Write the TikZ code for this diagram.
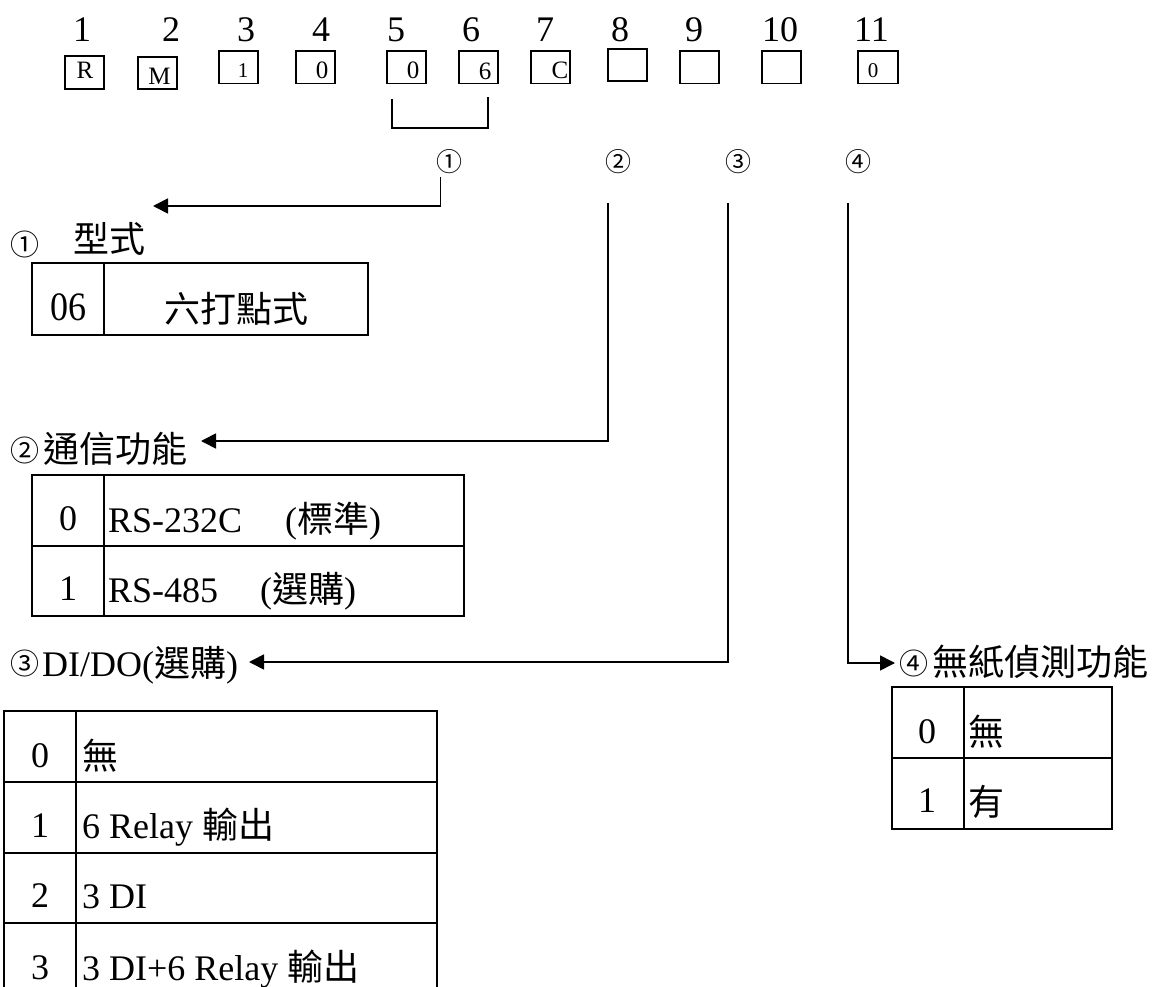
\documentclass[tikz,border=0pt]{standalone}
\usepackage{fontspec}
\usetikzlibrary{arrows.meta}
\setmainfont{Liberation Serif}
\newfontfamily\cjk{Noto Sans CJK TC}
\newcommand{\fs}[1]{\fontsize{#1}{#1}\selectfont}
\tikzset{
  line/.style={draw=black,line width=1.7pt},
  cell/.style={draw=black,line width=1.7pt},
  num/.style={inner sep=0pt,font=\fs{36}},
  small/.style={inner sep=0pt,font=\fs{25}},
  tiny/.style={inner sep=0pt,font=\fs{21}},
  circ/.style={inner sep=0pt,font=\cjk\fs{26}},
  lcirc/.style={inner sep=0pt,font=\cjk\fs{29}},
  label/.style={inner sep=0pt,anchor=base west,font=\fs{36}},
  cjklabel/.style={inner sep=0pt,anchor=base west,font=\cjk\fs{36}},
  head/.style={-{Triangle[length=15pt,width=15pt]},line width=1.7pt},
}
\begin{document}
\begin{tikzpicture}[x=1pt,y=-1pt]
\useasboundingbox (0,0) rectangle (1162,987);
% top numbers
\foreach \n/\x in {1/82,2/171,3/246,4/321,5/396,6/471,7/545,8/620,9/694,10/780,11/871.5}
  \node[num] (n\n) at (\x,29.5) {\n};
% code boxes
\foreach \nm/\a/\b/\t/\u in {b1/65/104/56/89,b2/138/177/57/89,b3/219/258/51/83.5,b4/296/335/51/83.5,b5/387/426/51/83.5,b6/459/498/51/83.5,b7/531/570/51/83.5,b8/608/647/49/81,b9/680/719/51/83.5,b10/762/801/51/83.5,b11/858/898/51/83.5}
  \draw[cell] (\a,\t) rectangle (\b,\u) coordinate (\nm);
\node[small] (tR) at (85,70) {R};
\node[small] (tM) at (159.5,76) {M};
\node[tiny] (t1) at (243,71) {1};
\node[small] (t0a) at (322,70) {0};
\node[small] (t0b) at (413,70.5) {0};
\node[small] (t6) at (485,71) {6};
\node[small] (tC) at (560,70.5) {C};
\node[tiny] (t0c) at (873,71) {0};
% bracket
\draw[line] (392,99) -- (392,128) -- (488,128) -- (488,97);
% circled
\node[circ] (c1) at (449.5,162) {①};
\node[circ] (c2) at (618,162) {②};
\node[circ] (c3) at (738,162) {③};
\node[circ] (c4) at (858,162) {④};
% connectors
\draw[head] (440.5,177) -- (440.5,206) -- (153,206);
\draw[head] (608,203) -- (608,441) -- (201,441);
\draw[head] (728,203) -- (728,662) -- (249,662);
\draw[head] (848,203) -- (848,663) -- (895,663);
% section labels
\node[lcirc] (l1) at (24.5,244.5) {①};
\node[cjklabel] (l1b) at (73,252) {型式};
\node[lcirc] (l2) at (24.5,450.5) {②};
\node[cjklabel] (l2b) at (43,462) {通信功能};
\node[lcirc] (l3) at (24.5,663.5) {③};
\node[label] (l3b) at (42,676) {DI/DO({\cjk 選購})};
\node[lcirc] (l4) at (914,663.5) {④};
\node[cjklabel] (l4b) at (932,675) {無紙偵測功能};
% table 1
\draw[cell] (32,263) rectangle (368,335);
\draw[line] (104,263) -- (104,335);
\node[num,yscale=1.12] (a0) at (68,307) {06};
\node[cjklabel,anchor=center] (a1) at (236,309) {六打點式};
% table 2
\draw[cell] (32,475) rectangle (464,616);
\draw[line] (32,546) -- (464,546);
\draw[line] (104,475) -- (104,616);
\node[num] (b0) at (68,519) {0};
\node[num] (b1t) at (68,589) {1};
\node[label] (b0t) at (108,532) {RS-232C};
\node[label] (b0u) at (285,532) {({\cjk 標準})};
\node[label] (b1u) at (108,602) {RS-485};
\node[label] (b1v) at (260,602) {({\cjk 選購})};
% table 3 (runs past the lower edge)
\draw[cell] (4,987) -- (4,711) -- (437,711) -- (437,987);
\draw[line] (4,782) -- (437,782);
\draw[line] (4,853) -- (437,853);
\draw[line] (4,923) -- (437,923);
\draw[line] (76,711) -- (76,987);
\node[num] (d0) at (40,756) {0};
\node[num] (d1) at (40,825.5) {1};
\node[num] (d2) at (40,895.5) {2};
\node[num] (d3) at (40,968) {3};
\node[cjklabel] (d0t) at (82,769) {無};
\node[label] (d1t) at (82,838) {6 Relay {\cjk 輸出}};
\node[label] (d2t) at (82,908) {3 DI};
\node[label] (d3t) at (82,980) {3 DI+6 Relay {\cjk 輸出}};
% table 4
\draw[cell] (892,687) rectangle (1112,829);
\draw[line] (892,758) -- (1112,758);
\draw[line] (964,687) -- (964,829);
\node[num] (e0) at (927,732) {0};
\node[num] (e1) at (927,801) {1};
\node[cjklabel] (e0t) at (968,745) {無};
\node[cjklabel] (e1t) at (968,815) {有};
\end{tikzpicture}
\end{document}
